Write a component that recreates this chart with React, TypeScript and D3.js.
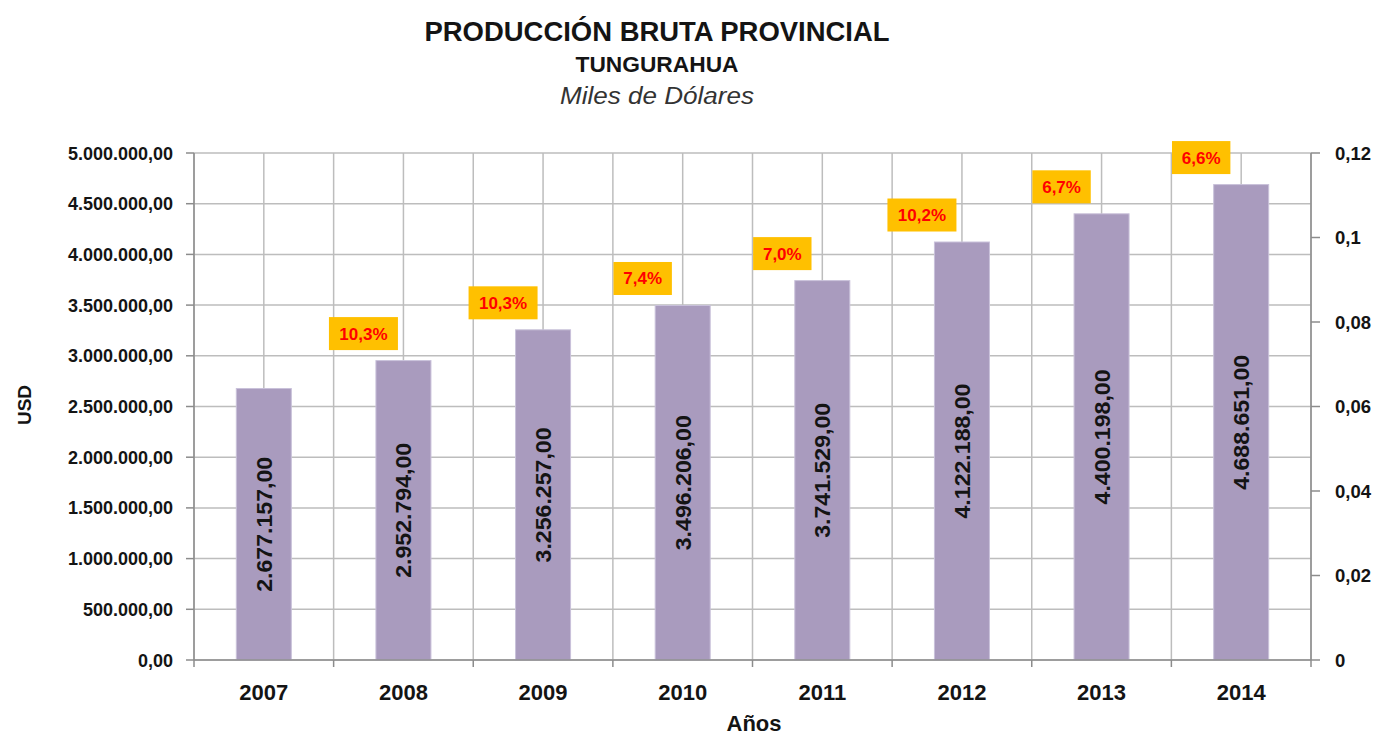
import React from "react";
import * as d3 from "d3";

const years = ["2007", "2008", "2009", "2010", "2011", "2012", "2013", "2014"];
const production = [2677157, 2952794, 3256257, 3496206, 3741529, 4122188, 4400198, 4688651];
const growth: (number | null)[] = [null, 10.3, 10.3, 7.4, 7.0, 10.2, 6.7, 6.6];
const leftTicks = [0, 500000, 1000000, 1500000, 2000000, 2500000, 3000000, 3500000, 4000000, 4500000, 5000000];
const rightTicks = [0, 0.02, 0.04, 0.06, 0.08, 0.1, 0.12];

const W = 1380;
const H = 737;
const M = { left: 194, right: 1311, top: 153, bottom: 660 };

const locale = d3.formatLocale({ decimal: ",", thousands: ".", grouping: [3], currency: ["$", ""] });
const fmt2 = locale.format(",.2f");
const fmtPct = locale.format(".1f");

export default function App() {
  const x = d3.scaleBand<string>().domain(years).range([M.left, M.right]).paddingInner(0.606).paddingOuter(0.303);
  const band = d3.scaleBand<string>().domain(years).range([M.left, M.right]);
  const y = d3.scaleLinear().domain([0, 5000000]).range([M.bottom, M.top]);
  const y2 = d3.scaleLinear().domain([0, 0.12]).range([M.bottom, M.top]);
  const step = band.step();
  const boundaries = d3.range(years.length + 1).map((i) => M.left + i * step);
  const centers = years.map((yr) => (band(yr) as number) + step / 2);
  const grid = "#BDBDBD";
  const axis = "#8C8C8C";
  const txt = "#141414";
  const sans = "'Liberation Sans', Arial, sans-serif";

  return (
    <svg width={W} height={H} style={{ position: "absolute", left: 0, top: 0, background: "#fff" }}>
      {/* Titles */}
      <text x={657} y={41} textAnchor="middle" fontFamily={sans} fontWeight="bold" fontSize={27} fill={txt} textLength={465} lengthAdjust="spacingAndGlyphs">
        PRODUCCIÓN BRUTA PROVINCIAL
      </text>
      <text x={657} y={72} textAnchor="middle" fontFamily={sans} fontWeight="bold" fontSize={22} fill={txt} textLength={163} lengthAdjust="spacingAndGlyphs">
        TUNGURAHUA
      </text>
      <text x={657} y={104} textAnchor="middle" fontFamily={sans} fontStyle="italic" fontSize={23} fill="#333" textLength={194} lengthAdjust="spacingAndGlyphs">
        Miles de Dólares
      </text>

      {/* Horizontal gridlines */}
      {leftTicks.map((t) => (
        <line key={"h" + t} x1={M.left} x2={M.right} y1={y(t)} y2={y(t)} stroke={grid} strokeWidth={1.5} />
      ))}
      {/* Vertical gridlines */}
      {boundaries.concat(centers).map((bx, i) => (
        <line key={"v" + i} x1={bx} x2={bx} y1={M.top} y2={M.bottom} stroke={grid} strokeWidth={1.5} />
      ))}

      {/* Bars */}
      {years.map((yr, i) => (
        <rect key={"b" + yr} x={x(yr)} y={y(production[i])} width={x.bandwidth()} height={M.bottom - y(production[i])} fill="#A99BBE" stroke="#C9C1DA" strokeWidth={1} />
      ))}

      {/* Value labels inside bars */}
      {years.map((yr, i) => {
        const cx = (x(yr) as number) + x.bandwidth() / 2;
        const cy = (y(production[i]) + M.bottom) / 2;
        return (
          <text key={"vl" + yr} transform={`translate(${cx + 8},${cy}) rotate(-90)`} textAnchor="middle" fontFamily="'Liberation Sans Narrow', 'Liberation Sans', Arial, sans-serif" fontWeight="bold" fontSize={22} fill={txt} textLength={135} lengthAdjust="spacingAndGlyphs">
            {fmt2(production[i])}
          </text>
        );
      })}

      {/* Growth labels */}
      {years.map((yr, i) => {
        const g = growth[i];
        if (g === null) return null;
        const label = fmtPct(g) + "%";
        const cx = (x(yr) as number) + x.bandwidth() / 2 - 40;
        const cy = y(production[i]) - 27;
        const tw = label.length * 10.6;
        const bw = tw + 16;
        return (
          <g key={"g" + yr}>
            <rect x={cx - bw / 2} y={cy - 16.5} width={bw} height={33} fill="#FFC000" />
            <text x={cx} y={cy + 6} textAnchor="middle" fontFamily={sans} fontWeight="bold" fontSize={17} fill="#FF0000">
              {label}
            </text>
          </g>
        );
      })}

      {/* Axes lines */}
      <line x1={M.left} x2={M.left} y1={M.top} y2={M.bottom} stroke={axis} strokeWidth={1.5} />
      <line x1={M.right} x2={M.right} y1={M.top} y2={M.bottom} stroke={axis} strokeWidth={1.5} />
      <line x1={M.left} x2={M.right} y1={M.bottom} y2={M.bottom} stroke={axis} strokeWidth={1.5} />

      {/* Left ticks */}
      {leftTicks.map((t) => (
        <g key={"lt" + t}>
          <line x1={M.left - 8} x2={M.left} y1={y(t)} y2={y(t)} stroke={axis} strokeWidth={1.5} />
          <text x={173} y={y(t) + 6.5} textAnchor="end" fontFamily={sans} fontWeight="bold" fontSize={18} fill={txt}>
            {fmt2(t)}
          </text>
        </g>
      ))}

      {/* Right ticks */}
      {rightTicks.map((t) => (
        <g key={"rt" + t}>
          <line x1={M.right} x2={M.right + 9} y1={y2(t)} y2={y2(t)} stroke={axis} strokeWidth={1.5} />
          <text x={1335} y={y2(t) + 6.5} textAnchor="start" fontFamily={sans} fontWeight="bold" fontSize={18.5} fill={txt}>
            {String(+t.toFixed(2)).replace(".", ",")}
          </text>
        </g>
      ))}

      {/* Bottom ticks */}
      {boundaries.map((bx, i) => (
        <line key={"bt" + i} x1={bx} x2={bx} y1={M.bottom} y2={M.bottom + 7} stroke={axis} strokeWidth={1.5} />
      ))}
      {years.map((yr) => (
        <text key={"xl" + yr} x={(x(yr) as number) + x.bandwidth() / 2} y={700} textAnchor="middle" fontFamily={sans} fontWeight="bold" fontSize={22} fill={txt}>
          {yr}
        </text>
      ))}

      {/* Axis titles */}
      <text x={754} y={731} textAnchor="middle" fontFamily={sans} fontWeight="bold" fontSize={22} fill={txt}>
        Años
      </text>
      <text transform="translate(31,405) rotate(-90)" textAnchor="middle" fontFamily={sans} fontWeight="bold" fontSize={19} fill={txt}>
        USD
      </text>
    </svg>
  );
}
